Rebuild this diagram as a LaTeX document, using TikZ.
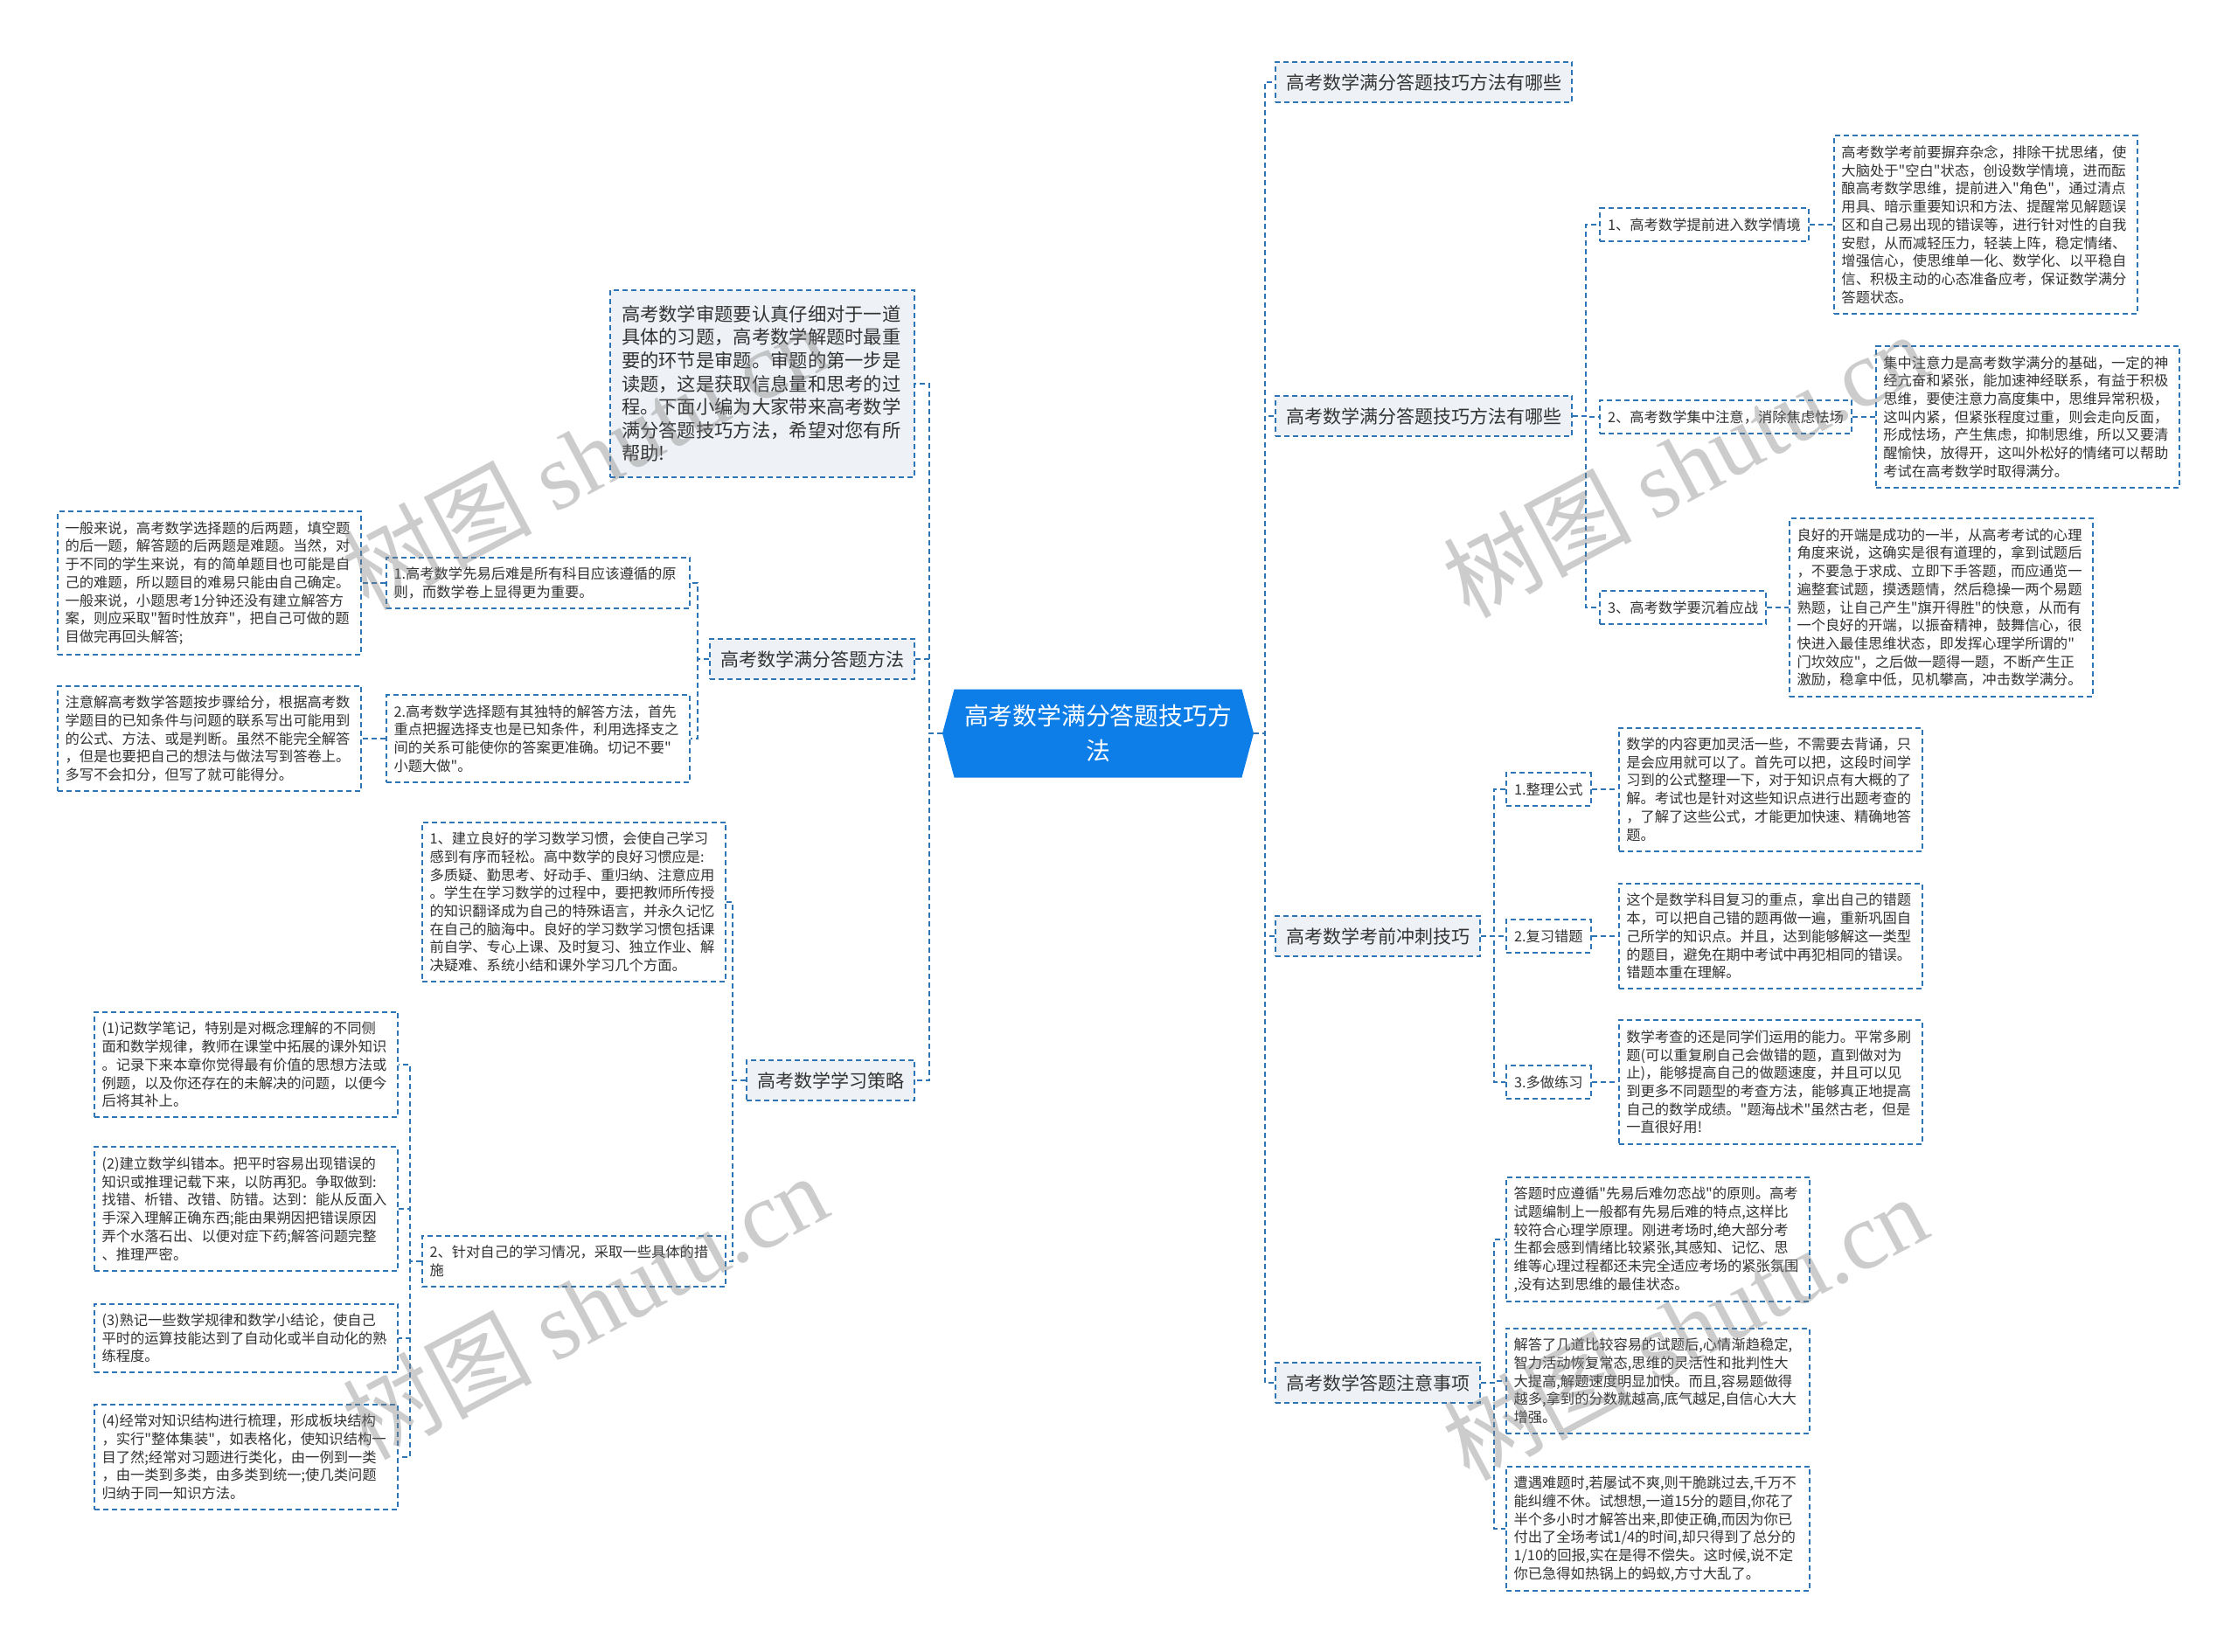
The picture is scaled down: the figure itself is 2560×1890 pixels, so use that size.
\documentclass[tikz,border=0pt]{standalone}
\usepackage{fontspec}
\newfontfamily\cjk{Noto Sans CJK SC}
\newfontfamily\wmserif{Liberation Serif}
\usetikzlibrary{positioning,shapes.symbols}

\definecolor{linkblue}{RGB}{46,117,182}
\definecolor{topicfill}{RGB}{238,242,246}
\definecolor{rootblue}{RGB}{13,125,232}
\definecolor{inktext}{RGB}{51,51,51}

\begin{document}
\begin{tikzpicture}[x=0.5pt,y=0.5pt,yscale=-1,xscale=1,
  link/.style={draw=linkblue,line width=1pt,dash pattern=on 3pt off 2pt},
  root/.style={shape=signal,signal to=west and east,signal pointer angle=150,
    fill=rootblue,text=white,align=center,font=\cjk\fontsize{13.9}{20}\selectfont,
    minimum width=178pt,minimum height=50.5pt,inner sep=2pt},
  topic/.style={link,fill=topicfill,text=inktext,font=\cjk\fontsize{10.5}{13}\selectfont,
    inner xsep=6pt,inner ysep=6.8pt},
  intro/.style={topic,font=\cjk\fontsize{10.65}{13.3}\selectfont,text width=161pt,
    align=left,inner xsep=6.5pt,inner ysep=8.6pt},
  leaf/.style={link,fill=white,text=inktext,font=\cjk\fontsize{8.15}{10.35}\selectfont,
    inner xsep=4.5pt,inner ysep=5.6pt,align=left},
  note/.style={leaf,text width=165pt,inner xsep=4.25pt},
  watermark/.style={text=black!50,text opacity=0.4,font=\cjk\fontsize{54}{60}\selectfont,rotate=28}]
\fill[white] (0,0) rectangle (2560,1890);
\useasboundingbox (0,0) rectangle (2560,1890);

% centre
\node[root] (root) at (1256,839) {高考数学满分答题技巧方\\法};

% right topics
\node[topic,anchor=west] (r1) at (1458,94) {高考数学满分答题技巧方法有哪些};
\node[topic,anchor=west] (r2) at (1458,476) {高考数学满分答题技巧方法有哪些};
\node[topic,anchor=west] (r3) at (1458,1071) {高考数学考前冲刺技巧};
\node[topic,anchor=west] (r4) at (1458,1582) {高考数学答题注意事项};

% left topics
\node[intro,anchor=east] (intro) at (1047,439) {高考数学审题要认真仔细对于一道\\具体的习题，高考数学解题时最重\\要的环节是审题。审题的第一步是\\读题，这是获取信息量和思考的过\\程。下面小编为大家带来高考数学\\满分答题技巧方法，希望对您有所\\帮助!};
\node[topic,anchor=east] (l2) at (1047,754) {高考数学满分答题方法};
\node[topic,anchor=east] (l3) at (1047,1236) {高考数学学习策略};

% r2 branch
\node[leaf,anchor=west] (r21) at (1829,257) {1、高考数学提前进入数学情境};
\node[note,right=13.5pt of r21] (r21t) {高考数学考前要摒弃杂念，排除干扰思绪，使\\大脑处于"空白"状态，创设数学情境，进而酝\\酿高考数学思维，提前进入"角色"，通过清点\\用具、暗示重要知识和方法、提醒常见解题误\\区和自己易出现的错误等，进行针对性的自我\\安慰，从而减轻压力，轻装上阵，稳定情绪、\\增强信心，使思维单一化、数学化、以平稳自\\信、积极主动的心态准备应考，保证数学满分\\答题状态。};
\node[leaf,anchor=west] (r22) at (1829,477) {2、高考数学集中注意，消除焦虑怯场};
\node[note,right=13pt of r22] (r22t) {集中注意力是高考数学满分的基础，一定的神\\经亢奋和紧张，能加速神经联系，有益于积极\\思维，要使注意力高度集中，思维异常积极，\\这叫内紧，但紧张程度过重，则会走向反面，\\形成怯场，产生焦虑，抑制思维，所以又要清\\醒愉快，放得开，这叫外松好的情绪可以帮助\\考试在高考数学时取得满分。};
\node[leaf,anchor=west] (r23) at (1829,695) {3、高考数学要沉着应战};
\node[note,right=12.5pt of r23] (r23t) {良好的开端是成功的一半，从高考考试的心理\\角度来说，这确实是很有道理的，拿到试题后\\，不要急于求成、立即下手答题，而应通览一\\遍整套试题，摸透题情，然后稳操一两个易题\\熟题，让自己产生"旗开得胜"的快意，从而有\\一个良好的开端，以振奋精神，鼓舞信心，很\\快进入最佳思维状态，即发挥心理学所谓的"\\门坎效应"，之后做一题得一题，不断产生正\\激励，稳拿中低，见机攀高，冲击数学满分。};

% r3 branch
\node[leaf,anchor=west] (r31) at (1722,903) {1.整理公式};
\node[note,right=15pt of r31] (r31t) {数学的内容更加灵活一些，不需要去背诵，只\\是会应用就可以了。首先可以把，这段时间学\\习到的公式整理一下，对于知识点有大概的了\\解。考试也是针对这些知识点进行出题考查的\\，了解了这些公式，才能更加快速、精确地答\\题。};
\node[leaf,anchor=west] (r32) at (1722,1071) {2.复习错题};
\node[note,right=15pt of r32] (r32t) {这个是数学科目复习的重点，拿出自己的错题\\本，可以把自己错的题再做一遍，重新巩固自\\己所学的知识点。并且，达到能够解这一类型\\的题目，避免在期中考试中再犯相同的错误。\\错题本重在理解。};
\node[leaf,anchor=west] (r33) at (1722,1238) {3.多做练习};
\node[note,right=15pt of r33] (r33t) {数学考查的还是同学们运用的能力。平常多刷\\题(可以重复刷自己会做错的题，直到做对为\\止)，能够提高自己的做题速度，并且可以见\\到更多不同题型的考查方法，能够真正地提高\\自己的数学成绩。"题海战术"虽然古老，但是\\一直很好用!};

% r4 branch
\node[note,anchor=west] (r41) at (1722,1418) {答题时应遵循"先易后难勿恋战"的原则。高考\\试题编制上一般都有先易后难的特点,这样比\\较符合心理学原理。刚进考场时,绝大部分考\\生都会感到情绪比较紧张,其感知、记忆、思\\维等心理过程都还未完全适应考场的紧张氛围\\,没有达到思维的最佳状态。};
\node[note,anchor=west] (r42) at (1722,1580) {解答了几道比较容易的试题后,心情渐趋稳定,\\智力活动恢复常态,思维的灵活性和批判性大\\大提高,解题速度明显加快。而且,容易题做得\\越多,拿到的分数就越高,底气越足,自信心大大\\增强。};
\node[note,anchor=west] (r43) at (1722,1749) {遭遇难题时,若屡试不爽,则干脆跳过去,千万不\\能纠缠不休。试想想,一道15分的题目,你花了\\半个多小时才解答出来,即使正确,而因为你已\\付出了全场考试1/4的时间,却只得到了总分的\\1/10的回报,实在是得不偿失。这时候,说不定\\你已急得如热锅上的蚂蚁,方寸大乱了。};

% l2 branch
\node[note,anchor=east] (l21) at (790,667) {1.高考数学先易后难是所有科目应该遵循的原\\则，而数学卷上显得更为重要。};
\node[note,left=13.5pt of l21] (l21t) {一般来说，高考数学选择题的后两题，填空题\\的后一题，解答题的后两题是难题。当然，对\\于不同的学生来说，有的简单题目也可能是自\\己的难题，所以题目的难易只能由自己确定。\\一般来说，小题思考1分钟还没有建立解答方\\案，则应采取"暂时性放弃"，把自己可做的题\\目做完再回头解答;};
\node[note,anchor=east] (l22) at (790,845) {2.高考数学选择题有其独特的解答方法，首先\\重点把握选择支也是已知条件，利用选择支之\\间的关系可能使你的答案更准确。切记不要"\\小题大做"。};
\node[note,left=13.5pt of l22] (l22t) {注意解高考数学答题按步骤给分，根据高考数\\学题目的已知条件与问题的联系写出可能用到\\的公式、方法、或是判断。虽然不能完全解答\\，但是也要把自己的想法与做法写到答卷上。\\多写不会扣分，但写了就可能得分。};

% l3 branch
\node[note,anchor=east] (l31) at (831,1032) {1、建立良好的学习数学习惯，会使自己学习\\感到有序而轻松。高中数学的良好习惯应是:\\多质疑、勤思考、好动手、重归纳、注意应用\\。学生在学习数学的过程中，要把教师所传授\\的知识翻译成为自己的特殊语言，并永久记忆\\在自己的脑海中。良好的学习数学习惯包括课\\前自学、专心上课、及时复习、独立作业、解\\决疑难、系统小结和课外学习几个方面。};
\node[note,anchor=east] (l32) at (831,1443) {2、针对自己的学习情况，采取一些具体的措\\施};
\node[note,anchor=east] (l321) at (456,1218) {(1)记数学笔记，特别是对概念理解的不同侧\\面和数学规律，教师在课堂中拓展的课外知识\\。记录下来本章你觉得最有价值的思想方法或\\例题，以及你还存在的未解决的问题，以便今\\后将其补上。};
\node[note,anchor=east] (l322) at (456,1383) {(2)建立数学纠错本。把平时容易出现错误的\\知识或推理记载下来，以防再犯。争取做到:\\找错、析错、改错、防错。达到：能从反面入\\手深入理解正确东西;能由果朔因把错误原因\\弄个水落石出、以便对症下药;解答问题完整\\、推理严密。};
\node[note,anchor=east] (l323) at (456,1531) {(3)熟记一些数学规律和数学小结论，使自己\\平时的运算技能达到了自动化或半自动化的熟\\练程度。};
\node[note,anchor=east] (l324) at (456,1667) {(4)经常对知识结构进行梳理，形成板块结构\\，实行"整体集装"，如表格化，使知识结构一\\目了然;经常对习题进行类化，由一例到一类\\，由一类到多类，由多类到统一;使几类问题\\归纳于同一知识方法。};

% connectors
\foreach \t in {r1,r2,r3,r4}
  \draw[link] (root.east) -- ++(13,0) |- (\t.west);
\foreach \t in {intro,l2,l3}
  \draw[link] (root.west) -- ++(-15,0) |- (\t.east);
\foreach \t in {r21,r22,r23}
  \draw[link] (r2.east) -- ++(15,0) |- (\t.west);
\foreach \t in {r31,r32,r33}
  \draw[link] (r3.east) -- ++(15,0) |- (\t.west);
\foreach \t in {r41,r42,r43}
  \draw[link] (r4.east) -- ++(15,0) |- (\t.west);
\foreach \t in {l21,l22}
  \draw[link] (l2.west) -- ++(-13,0) |- (\t.east);
\foreach \t in {l31,l32}
  \draw[link] (l3.west) -- ++(-15,0) |- (\t.east);
\foreach \t in {l321,l322,l323,l324}
  \draw[link] (l32.west) -- ++(-13,0) |- (\t.east);
\foreach \s in {r21,r22,r23,r31,r32,r33}
  \draw[link] (\s.east) -- (\s t.west);
\foreach \s in {l21,l22}
  \draw[link] (\s.west) -- (\s t.east);

% watermarks
\node[watermark] (wm1) at (669,522) {树图 {\wmserif shutu.cn}};
\node[watermark] (wm2) at (1927,531) {树图 {\wmserif shutu.cn}};
\node[watermark] (wm3) at (669,1494) {树图 {\wmserif shutu.cn}};
\node[watermark] (wm4) at (1927,1518) {树图 {\wmserif shutu.cn}};

\end{tikzpicture}
\end{document}
